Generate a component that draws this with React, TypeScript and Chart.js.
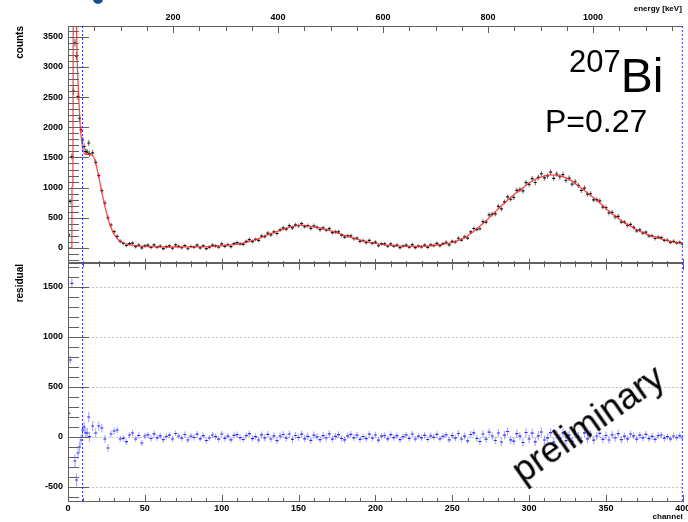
import React, { useEffect, useRef } from "react";
import { Chart, registerables } from "chart.js";

Chart.register(...registerables);

// ---------------- data ----------------
// first channels, one channel per bin (bin centres)
const earlyChannels = [0.5, 1.5, 2.5, 3.5, 4.5, 5.5, 6.5, 7.5, 8.5, 9.5, 10.5, 11.5, 12.5, 13.5];
const earlyCounts = [215, 770, 1515, 2600, 3400, 3180, 2510, 2150, 1960, 1790, 1680, 1600, 1590, 1740];
const earlyResiduals = [237, 770, 1537, -1400, -240, -430, -160, -100, -30, 70, 100, 40, 40, 200];

// rest of the spectrum, two channels per bin: 14, 16, ... 400
const binnedChannels = Array.from({ length: 194 }, (_, i) => 14 + 2 * i);
const binnedCounts = [
  1560, 1575, 1420, 1200, 950, 745, 500, 380, 270, 190, 110, 75, 40, 70, 80, 20, 45, 0, 35,
  46, 7, 52, 11, 30, -10, 21, 34, -5, 50,
  25, 3, 40, -14, 24, 12, 46, 1, 34, -13,
  14, 47, 33, 11, 66, 26, 53, 21, 72, 88,
  67, 58, 107, 139, 104, 141, 125, 196, 188, 247,
  218, 268, 239, 300, 334, 313, 370, 332, 383, 368,
  403, 353, 371, 325, 368, 342, 303, 331, 293, 321,
  253, 266, 266, 211, 179, 202, 201, 152, 163, 107,
  123, 89, 124, 74, 95, 36, 68, 67, 28, 66,
  31, 47, 4, 32, 47, 11, 54, 4, 32, 17,
  46, 8, 49, 39, 75, 38, 70, 94, 52, 109,
  98, 160, 130, 184, 162, 265, 322, 305, 318, 437,
  428, 548, 560, 565, 688, 647, 763, 845, 807, 838,
  953, 968, 945, 1082, 1053, 1148, 1085, 1169, 1230, 1161,
  1193, 1256, 1154, 1226, 1180, 1217, 1122, 1158, 1059, 1097,
  1036, 952, 992, 892, 898, 798, 800, 781, 676, 670,
  582, 590, 515, 524, 429, 428, 372, 390, 342, 283,
  298, 247, 261, 199, 201, 156, 179, 170, 125, 127,
  92, 110, 84, 92, 60,
];
const binnedResiduals = [
  3, 110, 40, 110, 90, -20, -110, 30, 60, 70, -20, -13, -47, 20, 40, -20, 15, -60, 10,
  22, -15, 31, -8, 12, -27, 5, 18, -20, 35,
  10, -12, 25, -30, 8, -5, 28, -18, 14, -35,
  -10, 20, 3, -22, 30, -14, 9, -28, 16, 24,
  -6, -25, 13, 33, -17, 4, -30, 21, -9, 27,
  -20, 11, -36, 8, 25, -12, 30, -24, 15, -5,
  28, -18, 6, -33, 19, 2, -26, 14, -10, 32,
  -21, 7, 23, -15, -29, 12, 26, -8, 18, -24,
  5, -16, 29, -11, 20, -31, 9, 15, -19, 24,
  -7, 13, -27, 4, 21, -14, 30, -20, 8, -9,
  17, -25, 11, -4, 26, -18, 6, 22, -28, 14,
  -12, 35, -20, 9, -38, 25, 42, -15, -45, 30,
  -22, 48, 10, -35, 40, -50, 18, 55, -28, -42,
  33, 8, -55, 45, -20, 38, -48, 12, 50, -30,
  -8, 44, -52, 25, -15, 40, -36, 18, -44, 30,
  6, -38, 42, -18, 28, -32, 10, 36, -24, 15,
  -30, 22, -10, 34, -26, 8, -18, 30, 12, -22,
  18, -8, 26, -16, 6, -24, 14, 20, -12, 4,
  -18, 10, -6, 12, -10,
];

// fitted model (red curve)
const fitChannels = [
  0, 2.5, 2.6, 3.2, 3.4, 4.3, 5.2, 6, 7, 8, 9, 10, 11, 13, 15, 16, 17, 18, 19, 20,
  21, 22, 23, 24, 25, 26, 27, 28, 29, 30, 32, 34, 36, 38, 41, 45, 50, 60, 70, 80,
  90, 100, 106, 112, 118, 124, 130, 136, 142, 148, 152, 158, 164, 170, 176, 182, 188, 194, 200, 206,
  212, 220, 228, 236, 242, 248, 254, 260, 266, 272, 278, 284, 290, 296, 302, 308, 314, 320, 326, 332,
  338, 344, 350, 356, 362, 368, 374, 380, 386, 392, 400,
];
const fitValues = [
  0, 0, 1000, 1050, 4000, 5500, 4000, 3100, 2500, 2000, 1750, 1600, 1560, 1550, 1545, 1530, 1490, 1410, 1300, 1180,
  1050, 920, 800, 690, 585, 490, 405, 335, 275, 225, 155, 110, 82, 65, 48, 35, 26, 18, 15, 16,
  22, 36, 49, 73, 106, 155, 220, 275, 325, 368, 375, 358, 329, 289, 243, 190, 145, 105, 75, 52,
  38, 26, 24, 38, 56, 80, 125, 200, 320, 450, 600, 745, 880, 1000, 1110, 1180, 1212, 1195, 1140, 1030,
  910, 790, 655, 525, 420, 330, 255, 195, 150, 110, 70,
];
const fitRange = [9, 400];

// axes
const channelRange = [0, 400];
const energyRange = [0, 1171];
const countRange = [-250, 3680];
const residualRange = [-650, 1740];
const channelTicks = [0, 50, 100, 150, 200, 250, 300, 350, 400];
const energyTicks = [200, 400, 600, 800, 1000];
const countTicks = [0, 500, 1000, 1500, 2000, 2500, 3000, 3500];
const residualTicks = [-500, 0, 500, 1000, 1500];

const isotopeMass = "207";
const isotopeSymbol = "Bi";
const pValueText = "P=0.27";
const stampText = "preliminary";
const titleCounts = "counts";
const titleResidual = "residual";
const titleEnergy = "energy [keV]";
const titleChannel = "channel";

// ---------------- helpers ----------------
const FONT = "'Liberation Sans', Arial, Helvetica, sans-serif";
const AXIS = "#606060";
const tickFont = { family: FONT, size: 9, weight: "bold" as const };

const spectrumChannels = [...earlyChannels, ...binnedChannels];
const spectrumCounts = [...earlyCounts, ...binnedCounts];
const residuals = [...earlyResiduals, ...binnedResiduals];
const spectrumErrors = spectrumCounts.map((v) => Math.sqrt(Math.abs(v) + 900));

function seg(ctx: CanvasRenderingContext2D, x1: number, y1: number, x2: number, y2: number) {
  ctx.beginPath();
  ctx.moveTo(x1, y1);
  ctx.lineTo(x2, y2);
  ctx.stroke();
}

function drawErrorBars(chart: any, xs: number[], ys: number[], errs: number[], color: string) {
  const { ctx, chartArea: ca } = chart;
  const sx = chart.scales.x;
  const sy = chart.scales.y;
  ctx.save();
  ctx.beginPath();
  ctx.rect(ca.left, ca.top, ca.right - ca.left, ca.bottom - ca.top);
  ctx.clip();
  ctx.strokeStyle = color;
  ctx.lineWidth = 1.2;
  ctx.beginPath();
  xs.forEach((c, i) => {
    const px = sx.getPixelForValue(c);
    ctx.moveTo(px, sy.getPixelForValue(ys[i] + errs[i]));
    ctx.lineTo(px, sy.getPixelForValue(ys[i] - errs[i]));
  });
  ctx.stroke();
  ctx.restore();
}

function yTicks(chart: any, lo: number, hi: number) {
  const { ctx, chartArea: ca } = chart;
  const sy = chart.scales.y;
  for (let v = Math.ceil(lo / 100) * 100; v <= hi; v += 100) {
    const py = Math.round(sy.getPixelForValue(v)) + 0.5;
    const len = v % 500 === 0 ? 21 : 11;
    seg(ctx, ca.left, py, ca.left + len, py);
  }
}

function xTicks(chart: any, y: number, dir: number, major: number, minor: number) {
  const { ctx } = chart;
  const sx = chart.scales.x;
  for (let c = channelRange[0]; c <= channelRange[1]; c += 10) {
    const px = Math.round(sx.getPixelForValue(c)) + 0.5;
    const len = c % 50 === 0 ? major : minor;
    seg(ctx, px, y, px, y + dir * len);
  }
}

function fitRangeLines(chart: any) {
  const { ctx, chartArea: ca } = chart;
  const sx = chart.scales.x;
  ctx.save();
  ctx.strokeStyle = "#3434ff";
  ctx.lineWidth = 1;
  ctx.setLineDash([2, 2]);
  fitRange.forEach((c) => {
    const px = Math.min(Math.round(sx.getPixelForValue(c)) + 0.5, ca.right - 0.5);
    seg(ctx, px, ca.top, px, ca.bottom);
  });
  ctx.restore();
}

function verticalTitle(ctx: CanvasRenderingContext2D, text: string, x: number, yTop: number) {
  ctx.save();
  ctx.translate(x, yTop);
  ctx.rotate(-Math.PI / 2);
  ctx.font = `bold 10px ${FONT}`;
  ctx.fillStyle = "#000";
  ctx.textAlign = "right";
  ctx.textBaseline = "middle";
  ctx.fillText(text, 0, 0);
  ctx.restore();
}

const zeroPad = (s: any) => {
  s.paddingLeft = 0;
  s.paddingRight = 0;
  s.paddingTop = 0;
  s.paddingBottom = 0;
};

const topPlugin = {
  id: "topPanel",
  beforeDatasetsDraw(chart: any) {
    drawErrorBars(chart, spectrumChannels, spectrumCounts, spectrumErrors, "rgba(0,0,0,0.5)");
  },
  afterDraw(chart: any) {
    const { ctx, chartArea: ca } = chart;
    const se = chart.scales.xe;
    ctx.save();
    ctx.strokeStyle = AXIS;
    ctx.lineWidth = 1;
    seg(ctx, ca.left + 0.5, ca.top, ca.left + 0.5, ca.bottom);
    seg(ctx, ca.left, ca.top + 0.5, ca.right, ca.top + 0.5);
    seg(ctx, ca.left, ca.bottom - 0.5, ca.right, ca.bottom - 0.5);
    yTicks(chart, countRange[0], countRange[1]);
    for (let e = energyRange[0]; e <= energyRange[1]; e += 50) {
      const px = Math.round(se.getPixelForValue(e)) + 0.5;
      const len = e % 200 === 0 ? 7 : 5;
      seg(ctx, px, ca.top, px, ca.top + len);
    }
    xTicks(chart, ca.bottom, -1, 4, 2);
    ctx.restore();
    fitRangeLines(chart);
    verticalTitle(ctx, titleCounts, 20, ca.top);
    ctx.save();
    ctx.font = `bold 8px ${FONT}`;
    ctx.fillStyle = "#000";
    ctx.textAlign = "right";
    ctx.textBaseline = "middle";
    ctx.fillText(titleEnergy, ca.right - 1, 9);
    ctx.restore();
  },
};

const bottomPlugin = {
  id: "bottomPanel",
  beforeDatasetsDraw(chart: any) {
    const { ctx, chartArea: ca } = chart;
    const sy = chart.scales.y;
    ctx.save();
    ctx.strokeStyle = "#c4c4c4";
    ctx.lineWidth = 1;
    ctx.setLineDash([2, 2]);
    residualTicks.forEach((v) => {
      const py = Math.round(sy.getPixelForValue(v)) + 0.5;
      seg(ctx, ca.left, py, ca.right, py);
    });
    ctx.restore();
    drawErrorBars(chart, spectrumChannels, residuals, spectrumErrors, "rgba(90,90,255,0.5)");
  },
  afterDraw(chart: any) {
    const { ctx, chartArea: ca } = chart;
    ctx.save();
    ctx.strokeStyle = AXIS;
    ctx.lineWidth = 1;
    seg(ctx, ca.left + 0.5, ca.top, ca.left + 0.5, ca.bottom);
    seg(ctx, ca.left, ca.top + 0.5, ca.right, ca.top + 0.5);
    seg(ctx, ca.left, ca.bottom - 0.5, ca.right, ca.bottom - 0.5);
    yTicks(chart, residualRange[0], residualRange[1]);
    xTicks(chart, ca.top, 1, 7, 4);
    xTicks(chart, ca.bottom, -1, 7, 4);
    ctx.restore();
    fitRangeLines(chart);
    verticalTitle(ctx, titleResidual, 20, ca.top + 1);
    ctx.save();
    ctx.font = `bold 8px ${FONT}`;
    ctx.fillStyle = "#000";
    ctx.textAlign = "right";
    ctx.textBaseline = "middle";
    ctx.fillText(titleChannel, ca.right, 261);
    ctx.restore();
  },
};

const commonOptions = {
  animation: false as const,
  responsive: false,
  devicePixelRatio: 1,
  events: [] as any[],
  plugins: { legend: { display: false }, tooltip: { enabled: false } },
};

function yScale(range: number[], ticks: number[]) {
  return {
    type: "linear" as const,
    position: "left" as const,
    min: range[0],
    max: range[1],
    afterBuildTicks: (s: any) => {
      s.ticks = ticks.map((v) => ({ value: v }));
    },
    afterFit: (s: any) => {
      s.width = 68;
      zeroPad(s);
    },
    ticks: { font: tickFont, color: "#000", padding: 5, autoSkip: false, callback: (v: any) => String(v) },
    grid: { display: false, drawTicks: false },
    border: { display: false },
  };
}

export default function App() {
  const topRef = useRef<HTMLCanvasElement>(null);
  const botRef = useRef<HTMLCanvasElement>(null);

  useEffect(() => {
    const top = new Chart(topRef.current as HTMLCanvasElement, {
      type: "scatter",
      data: {
        datasets: [
          {
            label: "fit",
            data: fitChannels.map((c, i) => ({ x: c, y: fitValues[i] })),
            showLine: true,
            borderColor: "rgba(255,30,30,0.8)",
            borderWidth: 1.3,
            pointRadius: 0,
            cubicInterpolationMode: "monotone",
            clip: 0,
          } as any,
          {
            label: "counts",
            data: spectrumChannels.map((c, i) => ({ x: c, y: spectrumCounts[i] })),
            showLine: false,
            pointStyle: "line",
            pointRadius: 1.5,
            pointBorderWidth: 1.2,
            pointBorderColor: "#111",
            pointBackgroundColor: "#111",
            clip: 0,
          } as any,
        ],
      },
      options: {
        ...commonOptions,
        layout: { padding: { left: 0, right: 2, top: 0, bottom: 7 } },
        scales: {
          x: { type: "linear", min: channelRange[0], max: channelRange[1], display: false },
          xe: {
            type: "linear",
            position: "top",
            min: energyRange[0],
            max: energyRange[1],
            afterBuildTicks: (s: any) => {
              s.ticks = energyTicks.map((v) => ({ value: v }));
            },
            afterFit: (s: any) => {
              s.height = 26;
              zeroPad(s);
            },
            ticks: { font: tickFont, color: "#000", padding: 3, maxRotation: 0, autoSkip: false, callback: (v: any) => String(v) },
            grid: { display: false, drawTicks: false },
            border: { display: false },
          },
          y: yScale(countRange, countTicks),
        },
      } as any,
      plugins: [topPlugin],
    });

    const bot = new Chart(botRef.current as HTMLCanvasElement, {
      type: "scatter",
      data: {
        datasets: [
          {
            label: "residual",
            data: spectrumChannels.map((c, i) => ({ x: c, y: residuals[i] })),
            showLine: false,
            pointStyle: "line",
            pointRadius: 1.5,
            pointBorderWidth: 1.2,
            pointBorderColor: "#2626ff",
            pointBackgroundColor: "#2626ff",
            clip: 0,
          } as any,
        ],
      },
      options: {
        ...commonOptions,
        layout: { padding: { left: 0, right: 2, top: 7, bottom: 0 } },
        scales: {
          x: {
            type: "linear",
            position: "bottom",
            min: channelRange[0],
            max: channelRange[1],
            afterBuildTicks: (s: any) => {
              s.ticks = channelTicks.map((v) => ({ value: v }));
            },
            afterFit: (s: any) => {
              s.height = 20;
              zeroPad(s);
            },
            ticks: { font: tickFont, color: "#000", padding: 1, maxRotation: 0, autoSkip: false, callback: (v: any) => String(v) },
            grid: { display: false, drawTicks: false },
            border: { display: false },
          },
          y: yScale(residualRange, residualTicks),
        },
      } as any,
      plugins: [bottomPlugin],
    });

    return () => {
      top.destroy();
      bot.destroy();
    };
  }, []);

  return (
    <div style={{ position: "absolute", left: 0, top: 0, width: 688, height: 522, background: "#fff", overflow: "hidden" }}>
      <div style={{ position: "absolute", left: 93, top: -6, width: 10, height: 10, borderRadius: "50%", background: "#1b4d8e" }} />
      <canvas ref={topRef} width={688} height={270} style={{ position: "absolute", left: 0, top: 0, width: 688, height: 270 }} />
      <canvas ref={botRef} width={688} height={266} style={{ position: "absolute", left: 0, top: 256, width: 688, height: 266 }} />
      <div style={{ position: "absolute", left: 569, top: 52, fontFamily: FONT, fontSize: 48, lineHeight: "48px", color: "#000", whiteSpace: "nowrap" }}>
        <span style={{ fontSize: 31, position: "relative", top: -20 }}>{isotopeMass}</span>
        {isotopeSymbol}
      </div>
      <div style={{ position: "absolute", left: 545, top: 105, fontFamily: FONT, fontSize: 32, lineHeight: "32px", color: "#000", whiteSpace: "nowrap" }}>
        {pValueText}
      </div>
      <div
        style={{
          position: "absolute",
          left: 588,
          top: 424,
          fontFamily: FONT,
          fontSize: 36,
          lineHeight: 1,
          color: "#000",
          whiteSpace: "nowrap",
          transform: "translate(-50%, -50%) rotate(-35deg)",
        }}
      >
        {stampText}
      </div>
    </div>
  );
}
